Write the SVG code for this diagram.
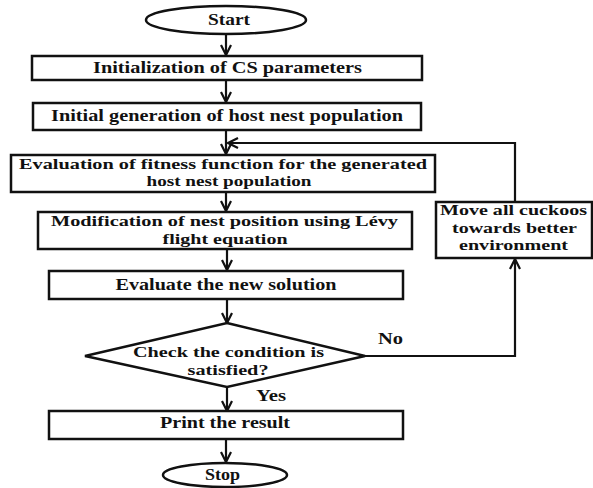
<svg xmlns="http://www.w3.org/2000/svg" width="593" height="488" viewBox="0 0 593 488">
<defs>
<marker id="ah" viewBox="0 0 12 12" refX="11" refY="6" markerWidth="12" markerHeight="12" markerUnits="userSpaceOnUse" orient="auto">
<path d="M1,1 L11,6 L1,11" fill="none" stroke="#111" stroke-width="2.2"/>
</marker>
</defs>
<style>
.box{fill:#fff;stroke:#111;stroke-width:2.5}
.t{font-family:"Liberation Serif","Times New Roman",serif;font-weight:bold;font-size:16px;fill:#111;text-anchor:middle}
.m{font-size:15px}
.c{fill:none;stroke:#111;stroke-width:2.2}
</style>
<rect width="593" height="488" fill="#fff"/>
<g id="connectors">
<line class="c" x1="226" y1="34" x2="226" y2="55" marker-end="url(#ah)"/>
<line class="c" x1="226" y1="80" x2="226" y2="102" marker-end="url(#ah)"/>
<line class="c" x1="226" y1="130" x2="226" y2="154" marker-end="url(#ah)"/>
<line class="c" x1="226" y1="192" x2="226" y2="211" marker-end="url(#ah)"/>
<line class="c" x1="227" y1="249" x2="227" y2="270" marker-end="url(#ah)"/>
<line class="c" x1="227" y1="299" x2="227" y2="323" marker-end="url(#ah)"/>
<line class="c" x1="227" y1="387" x2="227" y2="411" marker-end="url(#ah)"/>
<line class="c" x1="226" y1="439" x2="226" y2="462" marker-end="url(#ah)"/>
<polyline class="c" points="365,356 515,356 515,259" marker-end="url(#ah)"/>
<polyline class="c" points="515,202 515,143 228,143" marker-end="url(#ah)"/>
<text class="t" x="390.5" y="344" textLength="25" lengthAdjust="spacingAndGlyphs">No</text>
<text class="t" x="271" y="401" textLength="30" lengthAdjust="spacingAndGlyphs">Yes</text>
</g>
<g id="start">
<ellipse class="box" cx="226" cy="20" rx="80" ry="14"/>
<text class="t" x="229" y="25" textLength="42" lengthAdjust="spacingAndGlyphs">Start</text>
</g>
<g id="init-params">
<rect class="box" x="32" y="56" width="390" height="24"/>
<text class="t" x="227.5" y="73" textLength="269" lengthAdjust="spacingAndGlyphs">Initialization of CS parameters</text>
</g>
<g id="init-population">
<rect class="box" x="33" y="103" width="388" height="27"/>
<text class="t" x="227" y="121" textLength="352" lengthAdjust="spacingAndGlyphs">Initial generation of host nest population</text>
</g>
<g id="evaluate-fitness">
<rect class="box" x="11" y="155" width="424" height="37"/>
<text class="t m" x="223" y="168.5" textLength="408" lengthAdjust="spacingAndGlyphs">Evaluation of fitness function for the generated</text>
<text class="t m" x="229" y="186" textLength="165" lengthAdjust="spacingAndGlyphs">host nest population</text>
</g>
<g id="levy">
<rect class="box" x="38" y="212" width="374" height="37"/>
<text class="t m" x="224.5" y="226" textLength="347" lengthAdjust="spacingAndGlyphs">Modification of nest position using Lévy</text>
<text class="t m" x="225" y="243.5" textLength="125" lengthAdjust="spacingAndGlyphs">flight equation</text>
</g>
<g id="evaluate-new">
<rect class="box" x="49" y="271" width="354" height="28"/>
<text class="t" x="226" y="290" textLength="221" lengthAdjust="spacingAndGlyphs">Evaluate the new solution</text>
</g>
<g id="check">
<polygon class="box" points="227,323 365,356 227,387 85,356"/>
<text class="t m" x="228.5" y="357" textLength="191" lengthAdjust="spacingAndGlyphs">Check the condition is</text>
<text class="t m" x="228" y="374.5" textLength="81" lengthAdjust="spacingAndGlyphs">satisfied?</text>
</g>
<g id="move-cuckoos">
<rect class="box" x="436" y="202" width="156" height="56"/>
<text class="t m" x="513.5" y="215" textLength="147" lengthAdjust="spacingAndGlyphs">Move all cuckoos</text>
<text class="t m" x="514.5" y="232.5" textLength="125" lengthAdjust="spacingAndGlyphs">towards better</text>
<text class="t m" x="513.5" y="250" textLength="109" lengthAdjust="spacingAndGlyphs">environment</text>
</g>
<g id="print">
<rect class="box" x="49" y="411" width="354" height="28"/>
<text class="t" x="225" y="428" textLength="130" lengthAdjust="spacingAndGlyphs">Print the result</text>
</g>
<g id="stop">
<ellipse class="box" cx="225" cy="475" rx="62" ry="12"/>
<text class="t" x="222.5" y="480" textLength="35" lengthAdjust="spacingAndGlyphs">Stop</text>
</g>
</svg>
